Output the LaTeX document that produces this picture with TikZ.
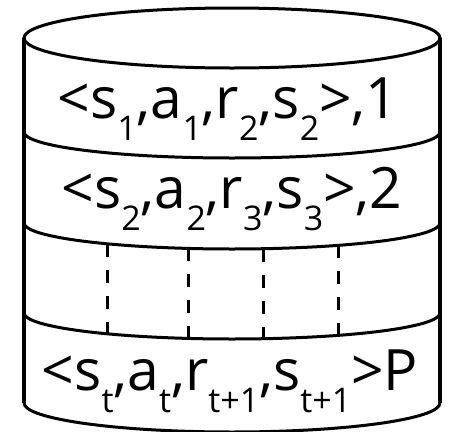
\documentclass[tikz,border=0pt]{standalone}
\usepackage{fontspec}
\setmainfont{Open Sans}
\newcommand\sbs[1]{\raisebox{-0.4em}{\fontsize{34}{34}\selectfont #1}}
\begin{document}
\begin{tikzpicture}[x=1pt,y=-1pt,
  side/.style={line width=4pt},
  rim/.style={line width=3pt},
  sep/.style={line width=3pt, dash pattern=on 13pt off 13pt},
  rowtext/.style={anchor=base, inner sep=0pt, font=\fontsize{57}{57}\selectfont}]
\useasboundingbox (0,0) rectangle (459,432);
% cylinder body
\draw[side] (24,38) -- (24,403);
\draw[side] (440,38) -- (440,403);
\draw[rim] (232,38) ellipse [x radius=208, y radius=30];
\draw[rim] (24,132) arc[start angle=180, end angle=0, x radius=208, y radius=26];
\draw[rim] (24,223) arc[start angle=180, end angle=0, x radius=208, y radius=26];
\draw[rim] (24,313) arc[start angle=180, end angle=0, x radius=208, y radius=26];
\draw[rim] (24,403) arc[start angle=180, end angle=0, x radius=208, y radius=29];
% dashed separators
\coordinate (d1a) at (107,244); \coordinate (d1b) at (107,334);
\coordinate (d2a) at (188,248); \coordinate (d2b) at (188,338);
\coordinate (d3a) at (263,249); \coordinate (d3b) at (263,339);
\coordinate (d4a) at (338,245); \coordinate (d4b) at (338,335);
\draw[sep] (d1a) -- (d1b);
\draw[sep] (d2a) -- (d2b);
\draw[sep] (d3a) -- (d3b);
\draw[sep] (d4a) -- (d4b);
% texts
\node[rowtext] (r1) at (228,118) {<s\sbs{1},a\sbs{1},r\sbs{2},s\sbs{2}>,1};
\node[rowtext] (r2) at (232,208) {<s\sbs{2},a\sbs{2},r\sbs{3},s\sbs{3}>,2};
\node[rowtext] (r4) at (230,390) {<s\sbs{t},a\sbs{t},r\sbs{t+1},s\sbs{t+1}>P};
\end{tikzpicture}
\end{document}
